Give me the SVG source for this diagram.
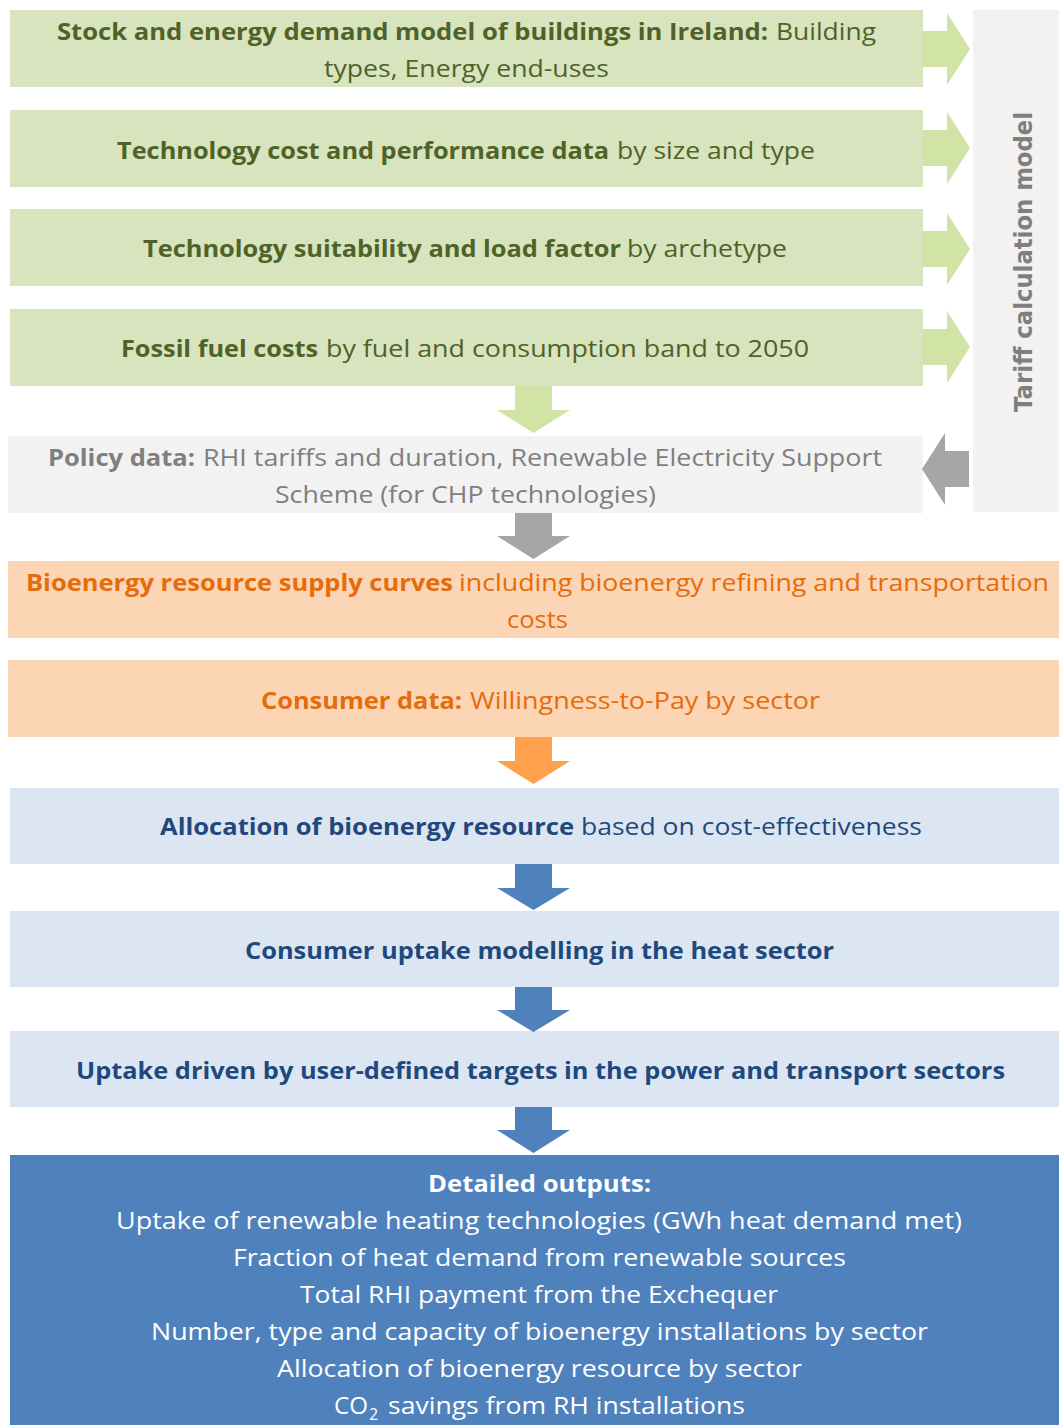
<svg xmlns="http://www.w3.org/2000/svg" width="1059" height="1425" viewBox="0 0 1059 1425">
<style>
text{font-family:"Open Sans","Liberation Sans",sans-serif;font-size:24px}
.b{font-weight:bold}
.g{fill:#4f6228}.gr{fill:#7f7f7f}.o{fill:#e46c0a}.bl{fill:#1f497d}.w{fill:#ffffff}
.gbox{fill:#d7e4bd}.pbox{fill:#f2f2f2}.obox{fill:#fcd5b5}.lbox{fill:#dce6f2}.dbox{fill:#4f81bd}
.ga{fill:#d2e3a6}.gya{fill:#a6a6a6}.oa{fill:#ffa04d}.ba{fill:#4f81bd}
</style>
<rect width="1059" height="1425" fill="#ffffff"/>
<g id="tariff">
<rect class="pbox" x="973" y="10" width="86" height="502"/>
<text class="b" transform="translate(1032,262) rotate(-90)" text-anchor="middle" style="font-family:'DejaVu Sans',sans-serif;font-size:24px;fill:#7f7f7f" textLength="300" lengthAdjust="spacingAndGlyphs">Tariff calculation model</text>
</g>
<g id="stock">
<rect class="gbox" x="10" y="10" width="913" height="77"/>
<text class="b g" x="57" y="40" textLength="711" lengthAdjust="spacingAndGlyphs">Stock and energy demand model of buildings in Ireland:</text>
<text class="g" x="776" y="40" textLength="100" lengthAdjust="spacingAndGlyphs">Building</text>
<text class="g" x="324" y="77" textLength="285" lengthAdjust="spacingAndGlyphs">types, Energy end-uses</text>
</g>
<g id="techcost">
<rect class="gbox" x="10" y="110" width="913" height="77"/>
<text class="b g" x="117" y="159" textLength="492" lengthAdjust="spacingAndGlyphs">Technology cost and performance data</text>
<text class="g" x="617" y="159" textLength="198" lengthAdjust="spacingAndGlyphs">by size and type</text>
</g>
<g id="suitability">
<rect class="gbox" x="10" y="209" width="913" height="77"/>
<text class="b g" x="143" y="257" textLength="478" lengthAdjust="spacingAndGlyphs">Technology suitability and load factor</text>
<text class="g" x="627" y="257" textLength="160" lengthAdjust="spacingAndGlyphs">by archetype</text>
</g>
<g id="fossil">
<rect class="gbox" x="10" y="309" width="913" height="77"/>
<text class="b g" x="121" y="357" textLength="197" lengthAdjust="spacingAndGlyphs">Fossil fuel costs</text>
<text class="g" x="326" y="357" textLength="483" lengthAdjust="spacingAndGlyphs">by fuel and consumption band to 2050</text>
</g>
<g id="policy">
<rect class="pbox" x="8" y="436" width="915" height="77"/>
<text class="b gr" x="48" y="466" textLength="147" lengthAdjust="spacingAndGlyphs">Policy data:</text>
<text class="gr" x="203" y="466" textLength="679" lengthAdjust="spacingAndGlyphs">RHI tariffs and duration, Renewable Electricity Support</text>
<text class="gr" x="275" y="503" textLength="381" lengthAdjust="spacingAndGlyphs">Scheme (for CHP technologies)</text>
</g>
<g id="supply">
<rect class="obox" x="8" y="561" width="1051" height="77"/>
<text class="b o" x="26" y="591" textLength="427" lengthAdjust="spacingAndGlyphs">Bioenergy resource supply curves</text>
<text class="o" x="459" y="591" textLength="590" lengthAdjust="spacingAndGlyphs">including bioenergy refining and transportation</text>
<text class="o" x="507" y="628" textLength="61" lengthAdjust="spacingAndGlyphs">costs</text>
</g>
<g id="consumer">
<rect class="obox" x="8" y="660" width="1051" height="77"/>
<text class="b o" x="261" y="709" textLength="201" lengthAdjust="spacingAndGlyphs">Consumer data:</text>
<text class="o" x="470" y="709" textLength="350" lengthAdjust="spacingAndGlyphs">Willingness-to-Pay by sector</text>
</g>
<g id="allocation">
<rect class="lbox" x="10" y="788" width="1049" height="76"/>
<text class="b bl" x="160" y="835" textLength="414" lengthAdjust="spacingAndGlyphs">Allocation of bioenergy resource</text>
<text class="bl" x="581" y="835" textLength="341" lengthAdjust="spacingAndGlyphs">based on cost-effectiveness</text>
</g>
<g id="uptake-heat">
<rect class="lbox" x="10" y="911" width="1049" height="76"/>
<text class="b bl" x="245" y="959" textLength="589" lengthAdjust="spacingAndGlyphs">Consumer uptake modelling in the heat sector</text>
</g>
<g id="uptake-targets">
<rect class="lbox" x="10" y="1031" width="1049" height="76"/>
<text class="b bl" x="76" y="1079" textLength="929" lengthAdjust="spacingAndGlyphs">Uptake driven by user-defined targets in the power and transport sectors</text>
</g>
<g id="outputs">
<rect class="dbox" x="10" y="1155" width="1049" height="270"/>
<text class="b w" x="428" y="1192" textLength="223" lengthAdjust="spacingAndGlyphs">Detailed outputs:</text>
<text class="w" x="116" y="1229" textLength="846" lengthAdjust="spacingAndGlyphs">Uptake of renewable heating technologies (GWh heat demand met)</text>
<text class="w" x="233" y="1266" textLength="613" lengthAdjust="spacingAndGlyphs">Fraction of heat demand from renewable sources</text>
<text class="w" x="300" y="1303" textLength="478" lengthAdjust="spacingAndGlyphs">Total RHI payment from the Exchequer</text>
<text class="w" x="151" y="1340" textLength="777" lengthAdjust="spacingAndGlyphs">Number, type and capacity of bioenergy installations by sector</text>
<text class="w" x="277" y="1377" textLength="525" lengthAdjust="spacingAndGlyphs">Allocation of bioenergy resource by sector</text>
<text class="w" x="334" y="1414" textLength="34" lengthAdjust="spacingAndGlyphs">CO</text>
<text class="w" x="369" y="1420" style="font-size:16px">2</text>
<text class="w" x="388" y="1414" textLength="357" lengthAdjust="spacingAndGlyphs">savings from RH installations</text>
</g>
<g id="connectors">
<polygon class="ga" points="923,31 947,31 947,13 970,49 947,85 947,67 923,67"/>
<polygon class="ga" points="923,130 947,130 947,112 970,148 947,184 947,166 923,166"/>
<polygon class="ga" points="923,231 947,231 947,213 970,249 947,285 947,267 923,267"/>
<polygon class="ga" points="923,329 947,329 947,311 970,347 947,383 947,365 923,365"/>
<polygon class="gya" points="969,451 945,451 945,433 922,469 945,505 945,487 969,487"/>
<polygon class="ga" points="515,386 552,386 552,410 570,410 533.5,433 497,410 515,410"/>
<polygon class="gya" points="515,513 552,513 552,536 570,536 533.5,559 497,536 515,536"/>
<polygon class="oa" points="515,737 552,737 552,761 570,761 533.5,784 497,761 515,761"/>
<polygon class="ba" points="515,864 552,864 552,888 570,888 533.5,910 497,888 515,888"/>
<polygon class="ba" points="515,987 552,987 552,1010 570,1010 533.5,1032 497,1010 515,1010"/>
<polygon class="ba" points="515,1107 552,1107 552,1130 570,1130 533.5,1153 497,1130 515,1130"/>
</g>
</svg>
